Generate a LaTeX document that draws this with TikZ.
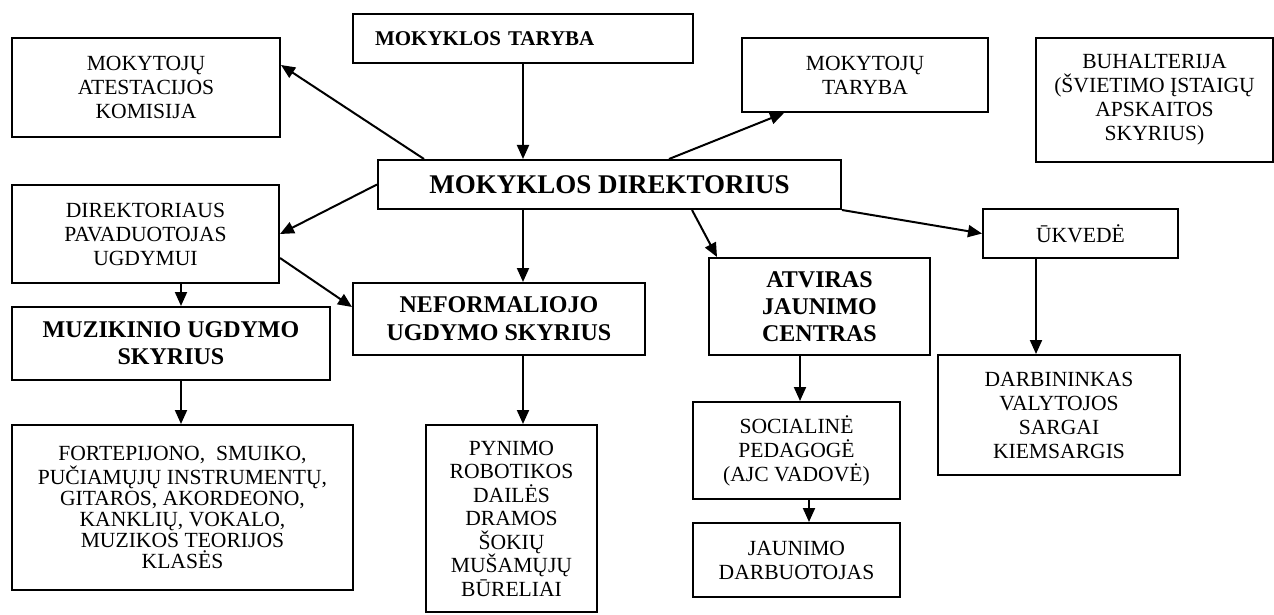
\documentclass[tikz,border=0pt]{standalone}
\usepackage{fontspec}
\setmainfont{Liberation Serif}
\usepackage{tikz}
\usetikzlibrary{calc}
\usetikzlibrary{arrows.meta}
\usetikzlibrary{positioning}

\begin{document}
\begin{tikzpicture}[x=0.5pt,y=-0.5pt,
    box/.style={draw,line width=1pt,align=center,inner sep=2pt,font=\fontsize{10.8}{12}\selectfont},
    bbox/.style={box,font=\fontsize{12}{13.5}\selectfont\bfseries},
    arr/.style={line width=1pt,-{Triangle[length=7pt,width=6pt]}}]
  \useasboundingbox (0,0) rectangle (1274,615);

  % top row
  \node[box,font=\fontsize{10.5}{12}\selectfont\bfseries,minimum height=24.5pt,
        text width=148pt,align=left,inner xsep=11pt] (taryba) at (523,38.5) {MOKYKLOS TARYBA};
  \node[box,minimum width=134pt,minimum height=49.5pt] (atest) at (146,87.5)
    {MOKYTOJŲ\\ATESTACIJOS\\KOMISIJA};
  \node[box,minimum width=123pt,minimum height=37pt] (mtaryba) at (865,75)
    {MOKYTOJŲ\\TARYBA};
  \node[box,minimum width=118.5pt,minimum height=62pt] (buhalt) at (1154.5,100)
    {BUHALTERIJA\\(ŠVIETIMO ĮSTAIGŲ\\APSKAITOS\\SKYRIUS)};

  % director
  \node[box,font=\fontsize{13.5}{15}\selectfont\bfseries,
        minimum width=231.5pt,minimum height=24.5pt] (direkt) at (609.5,184.5) {MOKYKLOS DIREKTORIUS};

  % middle row
  \node[box,minimum width=133.5pt,minimum height=49pt] (pavad) at (145.5,234)
    {DIREKTORIAUS\\PAVADUOTOJAS\\UGDYMUI};
  \node[bbox,minimum width=159pt,minimum height=36.5pt] (muzik) at (171,343.5)
    {MUZIKINIO UGDYMO\\SKYRIUS};
  \node[bbox,font=\fontsize{12}{14}\selectfont\bfseries,
        minimum width=146pt,minimum height=36pt] (neform) at (499,319)
    {NEFORMALIOJO\\UGDYMO SKYRIUS};
  \node[bbox,minimum width=110.5pt,minimum height=48.5pt] (ajc) at (819.5,306.5)
    {ATVIRAS\\JAUNIMO\\CENTRAS};
  \node[box,minimum width=97.5pt,minimum height=24.5pt] (ukv) at (1080.5,233.5) {ŪKVEDĖ};

  % bottom row
  \node[box,font=\fontsize{10.8}{10.5}\selectfont,
        minimum width=170.5pt,minimum height=82.5pt] (fortep) at (182.5,507.5)
    {FORTEPIJONO,\ \ SMUIKO,\\PUČIAMŲJŲ INSTRUMENTŲ,\\GITAROS, AKORDEONO,\\KANKLIŲ, VOKALO,\\MUZIKOS TEORIJOS\\KLASĖS};
  \node[box,font=\fontsize{10.8}{11.75}\selectfont,
        minimum width=85.5pt,minimum height=93.5pt] (pyn) at (511.5,518.5)
    {PYNIMO\\ROBOTIKOS\\DAILĖS\\DRAMOS\\ŠOKIŲ\\MUŠAMŲJŲ\\BŪRELIAI};
  \node[box,minimum width=103.5pt,minimum height=48.5pt] (soc) at (796.5,450.5)
    {SOCIALINĖ\\PEDAGOGĖ\\(AJC VADOVĖ)};
  \node[box,minimum width=103.5pt,minimum height=37pt] (jdarb) at (796.5,560)
    {JAUNIMO\\DARBUOTOJAS};
  \node[box,minimum width=121pt,minimum height=60pt] (darb) at (1059,415)
    {DARBININKAS\\VALYTOJOS\\SARGAI\\KIEMSARGIS};

  % connectors
  \draw[arr] (taryba.south) -- (taryba.south |- direkt.north);
  \draw[arr] ([xshift=23.5pt]direkt.north west) -- ([yshift=11.25pt]atest.east);
  \draw[arr] ([xshift=146pt]direkt.north west) -- ([xshift=21.5pt]mtaryba.south west);
  \draw[arr] (direkt.west) -- (pavad.east);
  \draw[arr] (taryba.south |- direkt.south) -- (taryba.south |- neform.north);
  \draw[arr] ([xshift=157.5pt]direkt.south west) -- ([xshift=4.5pt]ajc.north west);
  \draw[arr] (direkt.south east) -- (ukv.west);
  \draw[arr] ([xshift=85pt]pavad.south west) -- ([xshift=85pt]muzik.north west);
  \draw[arr] ([yshift=-12pt]pavad.east) -- ([yshift=6pt]neform.west);
  \draw[arr] ([xshift=85pt]muzik.south west) -- ([xshift=85pt]fortep.north west);
  \draw[arr] (taryba.south |- neform.south) -- (taryba.south |- pyn.north);
  \draw[arr] ([xshift=46pt]ajc.south west) -- ([xshift=46pt]ajc.south west |- soc.north);
  \draw[arr] ([xshift=58.5pt]soc.south west) -- ([xshift=58.5pt]soc.south west |- jdarb.north);
  \draw[arr] ([xshift=27pt]ukv.south west) -- ([xshift=27pt]ukv.south west |- darb.north);
\end{tikzpicture}
\end{document}
